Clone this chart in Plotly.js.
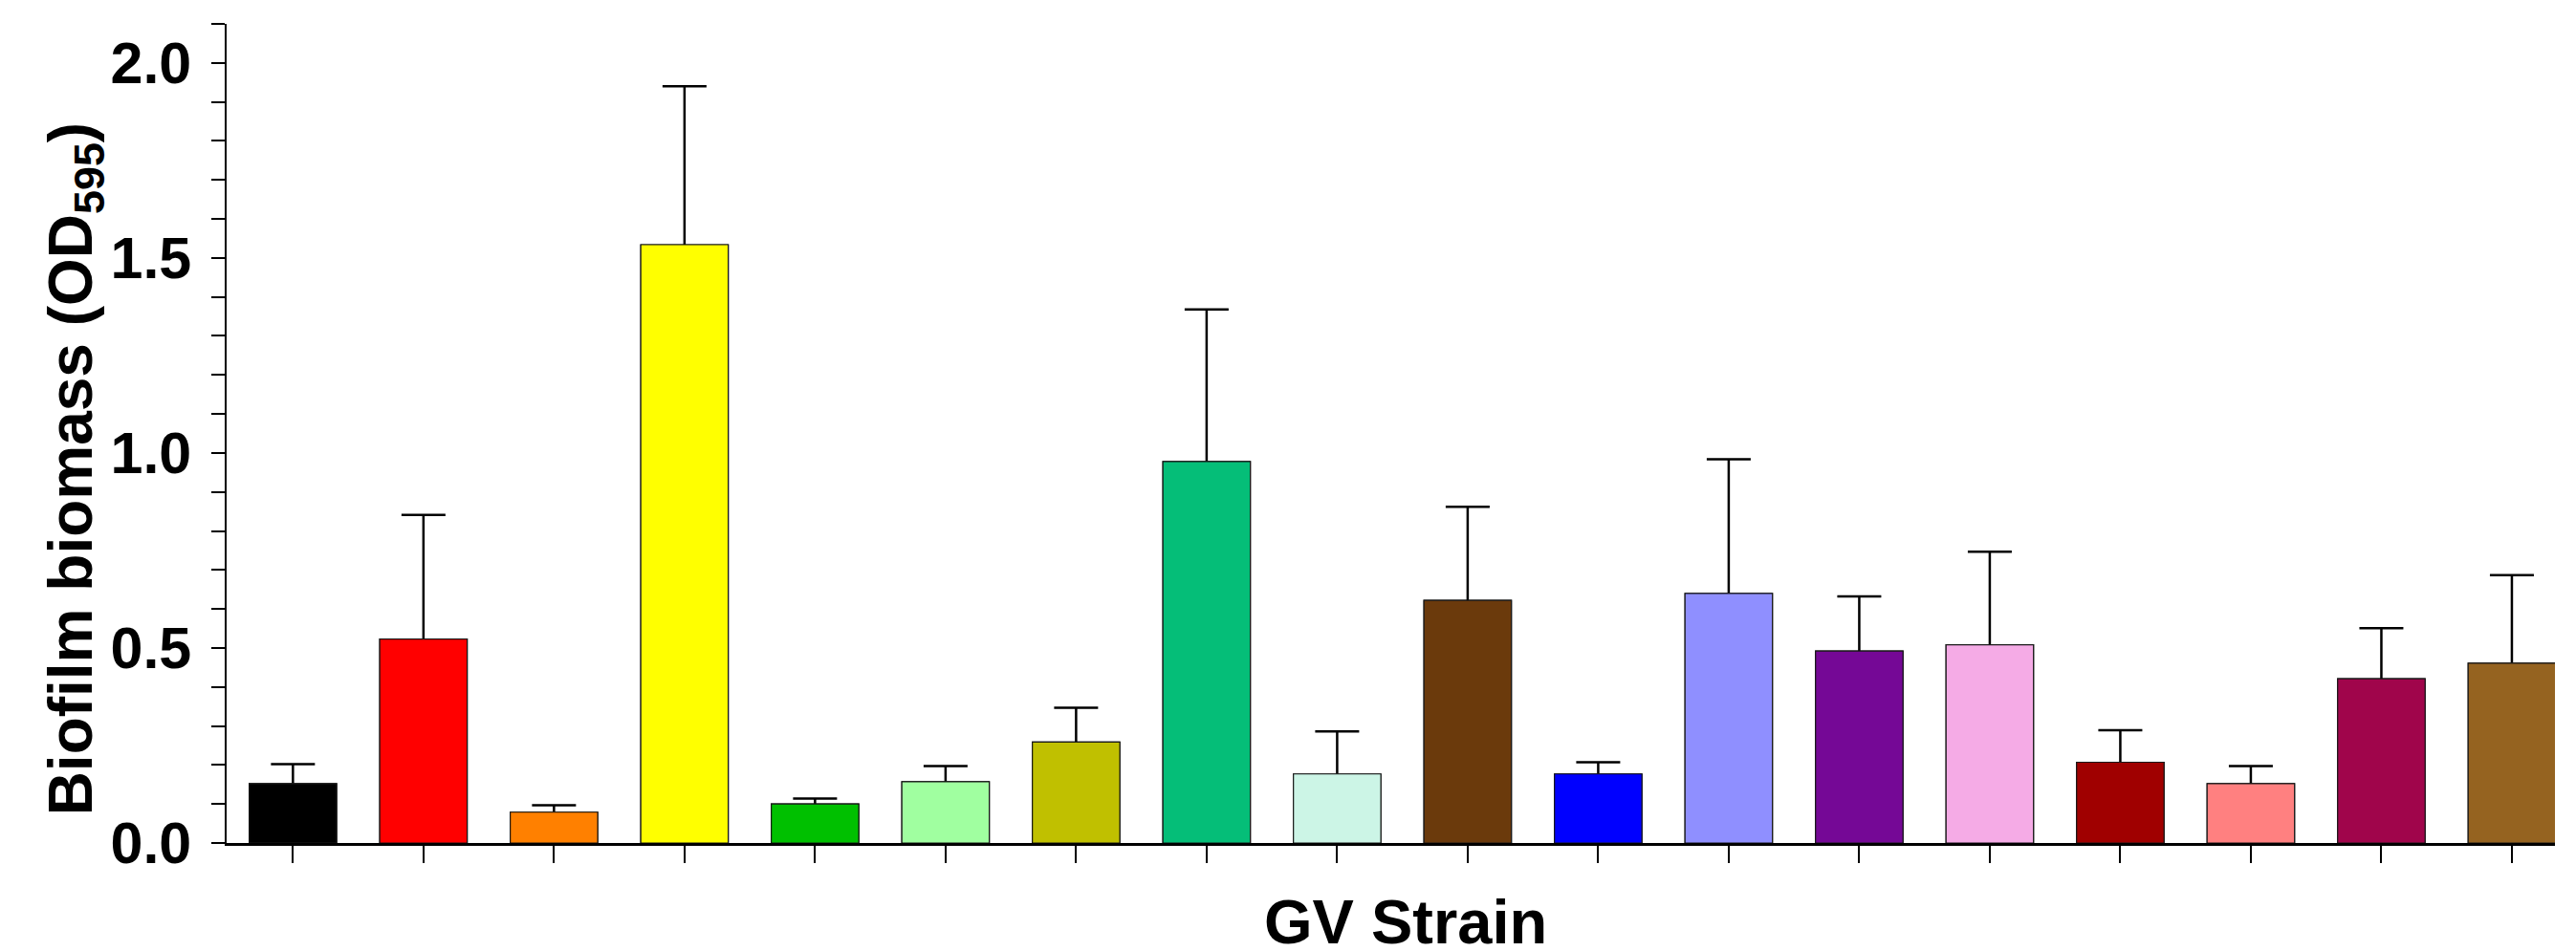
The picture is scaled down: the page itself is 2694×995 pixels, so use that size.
<!DOCTYPE html>
<html>
<head>
<meta charset="utf-8">
<script src="https://cdn.plot.ly/plotly-3.0.1.min.js"></script>
<style>
  html, body { margin: 0; padding: 0; background: #ffffff; }
  #chart { width: 2694px; height: 995px; }
</style>
</head>
<body>
<div id="chart"></div>
<script>
// ---- data ----
const strains = ['GV01','GV02','GV03','GV04','GV05','GV06','GV07','GV08','GV09',
                 'GV10','GV11','GV12','GV13','GV14','GV15','GV16','GV17','GV18'];
const biomass = [0.152, 0.523, 0.079, 1.534, 0.100, 0.157, 0.259, 0.978, 0.177,
                 0.622, 0.177, 0.640, 0.492, 0.508, 0.207, 0.152, 0.421, 0.461];
const biomassSD = [0.050, 0.318, 0.018, 0.406, 0.014, 0.040, 0.088, 0.390, 0.109,
                   0.240, 0.030, 0.344, 0.140, 0.239, 0.082, 0.045, 0.130, 0.226];
const barColors = ['#000000','#FF0000','#FF8000','#FFFF00','#00C000','#A0FFA0',
                   '#C0C000','#05BE78','#CCF5E6','#6B3A0C','#0000FF','#8F8FFF',
                   '#750896','#F5ABE6','#A00000','#FF8080','#A0054B','#956320'];
const yTickVals = [0, 0.5, 1.0, 1.5, 2.0];
const yTickText = ['0.0', '0.5', '1.0', '1.5', '2.0'];
const xTitle = 'GV Strain';
const yTitle = 'Biofilm biomass (OD<sub>595</sub>)';

const FONT = 'Liberation Sans, Arial, Helvetica, sans-serif';

// error bars (drawn from the base so the part inside the bar is hidden by the overlay trace)
const errTrace = {
  type: 'bar',
  x: strains,
  y: biomass,
  width: 0.67,
  marker: { color: barColors, line: { color: '#1a1a1a', width: 1.2 } },
  error_y: {
    type: 'data',
    symmetric: false,
    array: biomassSD,
    arrayminus: biomass,
    color: '#000000',
    thickness: 2.5,
    width: 23
  },
  hoverinfo: 'skip',
  showlegend: false
};
const barTrace = {
  type: 'bar',
  x: strains,
  y: biomass,
  width: 0.67,
  marker: { color: barColors, line: { color: '#1a1a1a', width: 1.2 } },
  error_y: { visible: false },
  showlegend: false
};

const layout = {
  width: 2694,
  height: 995,
  margin: { l: 237, r: 22, t: 25, b: 113 },
  paper_bgcolor: '#ffffff',
  plot_bgcolor: '#ffffff',
  barmode: 'overlay',
  showlegend: false,
  font: { family: FONT, color: '#000000' },
  xaxis: {
    type: 'category',
    range: [-0.508, 17.33],
    showgrid: false,
    zeroline: false,
    showline: true,
    linecolor: '#000000',
    linewidth: 3,
    ticks: 'outside',
    ticklen: 18,
    tickwidth: 2,
    tickcolor: '#000000',
    showticklabels: false
  },
  yaxis: {
    range: [0, 2.1],
    showgrid: false,
    zeroline: false,
    showline: true,
    linecolor: '#000000',
    linewidth: 2.5,
    ticks: 'outside',
    ticklen: 14,
    tickwidth: 2.5,
    tickcolor: '#000000',
    tickmode: 'array',
    tickvals: yTickVals,
    ticktext: yTickText,
    ticklabelstandoff: 8,
    tickfont: { family: FONT, size: 61, weight: 'bold', color: '#000000' },
    minor: { dtick: 0.1, ticks: 'outside', ticklen: 14, tickwidth: 2, tickcolor: '#000000', showgrid: false }
  },
  annotations: [
    {
      text: xTitle,
      xref: 'paper', yref: 'paper',
      x: 0.5064, y: -0.096,
      xanchor: 'center', yanchor: 'middle',
      showarrow: false,
      font: { family: FONT, size: 65, weight: 'bold', color: '#000000' }
    },
    {
      text: yTitle,
      xref: 'paper', yref: 'paper',
      x: -0.0653, y: 0.457,
      xanchor: 'center', yanchor: 'middle',
      textangle: -90,
      showarrow: false,
      font: { family: FONT, size: 64, weight: 'bold', color: '#000000' }
    }
  ]
};

Plotly.newPlot('chart', [errTrace, barTrace], layout, { displayModeBar: false, staticPlot: true });
</script>
</body>
</html>
